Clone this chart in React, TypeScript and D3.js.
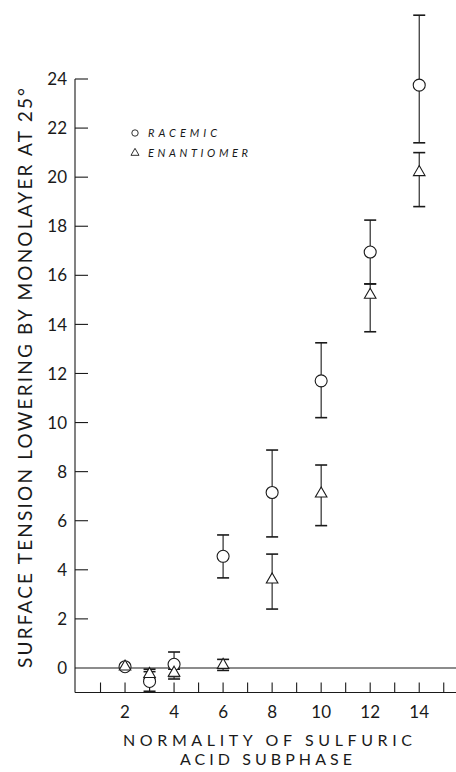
import React, { useEffect, useRef } from 'react';
import * as d3 from 'd3';

// normality of sulfuric acid subphase
const normality = [2, 3, 4, 6, 8, 10, 12, 14];

// racemic monolayer (circles), with error bar ends (null = no bar drawn)
const racemic = [0.05, -0.55, 0.15, 4.55, 7.15, 11.7, 16.95, 23.75];
const racemicHi = [null, -0.15, 0.65, 5.42, 8.88, 13.25, 18.25, 26.6];
const racemicLo = [null, -0.95, -0.35, 3.67, 5.34, 10.2, 15.65, 21.4];

// enantiomer monolayer (triangles)
const enantiomer = [0.05, -0.25, -0.2, 0.12, 3.6, 7.1, 15.2, 20.2];
const enantiomerHi = [null, -0.05, -0.05, 0.35, 4.64, 8.27, 15.65, 21.0];
const enantiomerLo = [null, -0.45, -0.45, -0.1, 2.4, 5.8, 13.7, 18.8];

const xTickLabels = [2, 4, 6, 8, 10, 12, 14];
const xMinorTicks = d3.range(1, 16);
const yTickLabels = d3.range(0, 25, 2);

const INK = '#1a1a1a';
const FONT = 'Lato, "Open Sans", sans-serif';

const App = () => {
  const ref = useRef<SVGSVGElement>(null);

  useEffect(() => {
    const width = 456;
    const height = 772;

    const x = d3.scaleLinear().domain([0, 15.5]).range([76, 456]);
    const y = d3.scaleLinear().domain([-1, 24]).range([692.5, 79]);

    const svg = d3.select(ref.current);
    svg.selectAll('*').remove();
    svg.attr('width', width).attr('height', height);

    const g = svg.append('g')
      .attr('fill', 'none')
      .attr('stroke', INK)
      .attr('stroke-width', 1.1);

    // frame: left axis, zero line, bottom line
    g.append('line').attr('x1', 75).attr('x2', 75).attr('y1', y(24)).attr('y2', y(-1));
    g.append('line').attr('x1', 75).attr('x2', width).attr('y1', y(0)).attr('y2', y(0));
    g.append('line').attr('x1', 75).attr('x2', width).attr('y1', y(-1)).attr('y2', y(-1));

    // y ticks point inward
    g.selectAll('.ytick')
      .data(yTickLabels.filter(d => d > 0))
      .enter()
      .append('line')
      .attr('x1', 75).attr('x2', 88)
      .attr('y1', d => y(d)).attr('y2', d => y(d));

    // x ticks rise from the bottom line
    g.selectAll('.xtick')
      .data(xMinorTicks)
      .enter()
      .append('line')
      .attr('x1', d => x(d)).attr('x2', d => x(d))
      .attr('y1', y(-1)).attr('y2', y(-1) - 10);

    const text = svg.append('g')
      .attr('fill', INK)
      .style('font-family', FONT)
      .style('font-weight', 400);

    text.selectAll('.ylab')
      .data(yTickLabels)
      .enter()
      .append('text')
      .attr('x', 67)
      .attr('y', d => y(d))
      .attr('dy', '0.36em')
      .attr('text-anchor', 'end')
      .style('font-size', '17px')
      .text(d => d);

    text.selectAll('.xlab')
      .data(xTickLabels)
      .enter()
      .append('text')
      .attr('x', d => x(d))
      .attr('y', 718)
      .attr('text-anchor', 'middle')
      .style('font-size', '17px')
      .text(d => d);

    // axis titles
    text.append('text')
      .attr('transform', 'translate(32,668) rotate(-90)')
      .attr('textLength', 580)
      .attr('lengthAdjust', 'spacing')
      .style('font-size', '19px')
      .text('SURFACE TENSION LOWERING BY MONOLAYER AT 25°');

    text.append('text')
      .attr('x', 123).attr('y', 746)
      .attr('textLength', 289)
      .attr('lengthAdjust', 'spacing')
      .style('font-size', '16px')
      .text('NORMALITY OF SULFURIC');

    text.append('text')
      .attr('x', 180).attr('y', 765)
      .attr('textLength', 172)
      .attr('lengthAdjust', 'spacing')
      .style('font-size', '16px')
      .text('ACID SUBPHASE');

    // legend
    const legend = svg.append('g');
    legend.append('circle')
      .attr('cx', 135).attr('cy', 133).attr('r', 3.2)
      .attr('fill', 'none').attr('stroke', INK).attr('stroke-width', 0.9);
    legend.append('path')
      .attr('d', d3.symbol(d3.symbolTriangle, 28)())
      .attr('transform', 'translate(135,153)')
      .attr('fill', 'none').attr('stroke', INK).attr('stroke-width', 0.9);
    legend.append('text')
      .attr('x', 148).attr('y', 137)
      .attr('textLength', 69)
      .attr('lengthAdjust', 'spacing')
      .attr('fill', INK)
      .style('font-family', FONT)
      .style('font-style', 'italic')
      .style('font-size', '11px')
      .text('RACEMIC');
    legend.append('text')
      .attr('x', 148).attr('y', 157)
      .attr('textLength', 100)
      .attr('lengthAdjust', 'spacing')
      .attr('fill', INK)
      .style('font-family', FONT)
      .style('font-style', 'italic')
      .style('font-size', '11px')
      .text('ENANTIOMER');

    // error bars
    const drawBars = (lo: (number | null)[], hi: (number | null)[]) => {
      normality.forEach((n, i) => {
        const l = lo[i];
        const h = hi[i];
        if (l === null || h === null) return;
        const cx = x(n);
        g.append('line').attr('x1', cx).attr('x2', cx).attr('y1', y(l)).attr('y2', y(h));
        g.append('line').attr('x1', cx - 6).attr('x2', cx + 6).attr('y1', y(l)).attr('y2', y(l)).attr('stroke-width', 1.6);
        g.append('line').attr('x1', cx - 6).attr('x2', cx + 6).attr('y1', y(h)).attr('y2', y(h)).attr('stroke-width', 1.6);
      });
    };
    drawBars(racemicLo, racemicHi);
    drawBars(enantiomerLo, enantiomerHi);

    // markers: circles first so the small triangles show on top where they overlap
    svg.append('g')
      .selectAll('circle')
      .data(normality)
      .enter()
      .append('circle')
      .attr('cx', d => x(d))
      .attr('cy', (d, i) => y(racemic[i]))
      .attr('r', 6)
      .attr('fill', '#fff')
      .attr('stroke', INK)
      .attr('stroke-width', 1.1);

    svg.append('g')
      .selectAll('path')
      .data(normality)
      .enter()
      .append('path')
      .attr('d', d3.symbol(d3.symbolTriangle, 58)())
      .attr('transform', (d, i) => `translate(${x(d)},${y(enantiomer[i])})`)
      .attr('fill', '#fff')
      .attr('stroke', INK)
      .attr('stroke-width', 1.1);
  }, []);

  return (
    <svg ref={ref} style={{ position: 'absolute', left: 0, top: 0, background: '#fff' }}></svg>
  );
};

export default App;
